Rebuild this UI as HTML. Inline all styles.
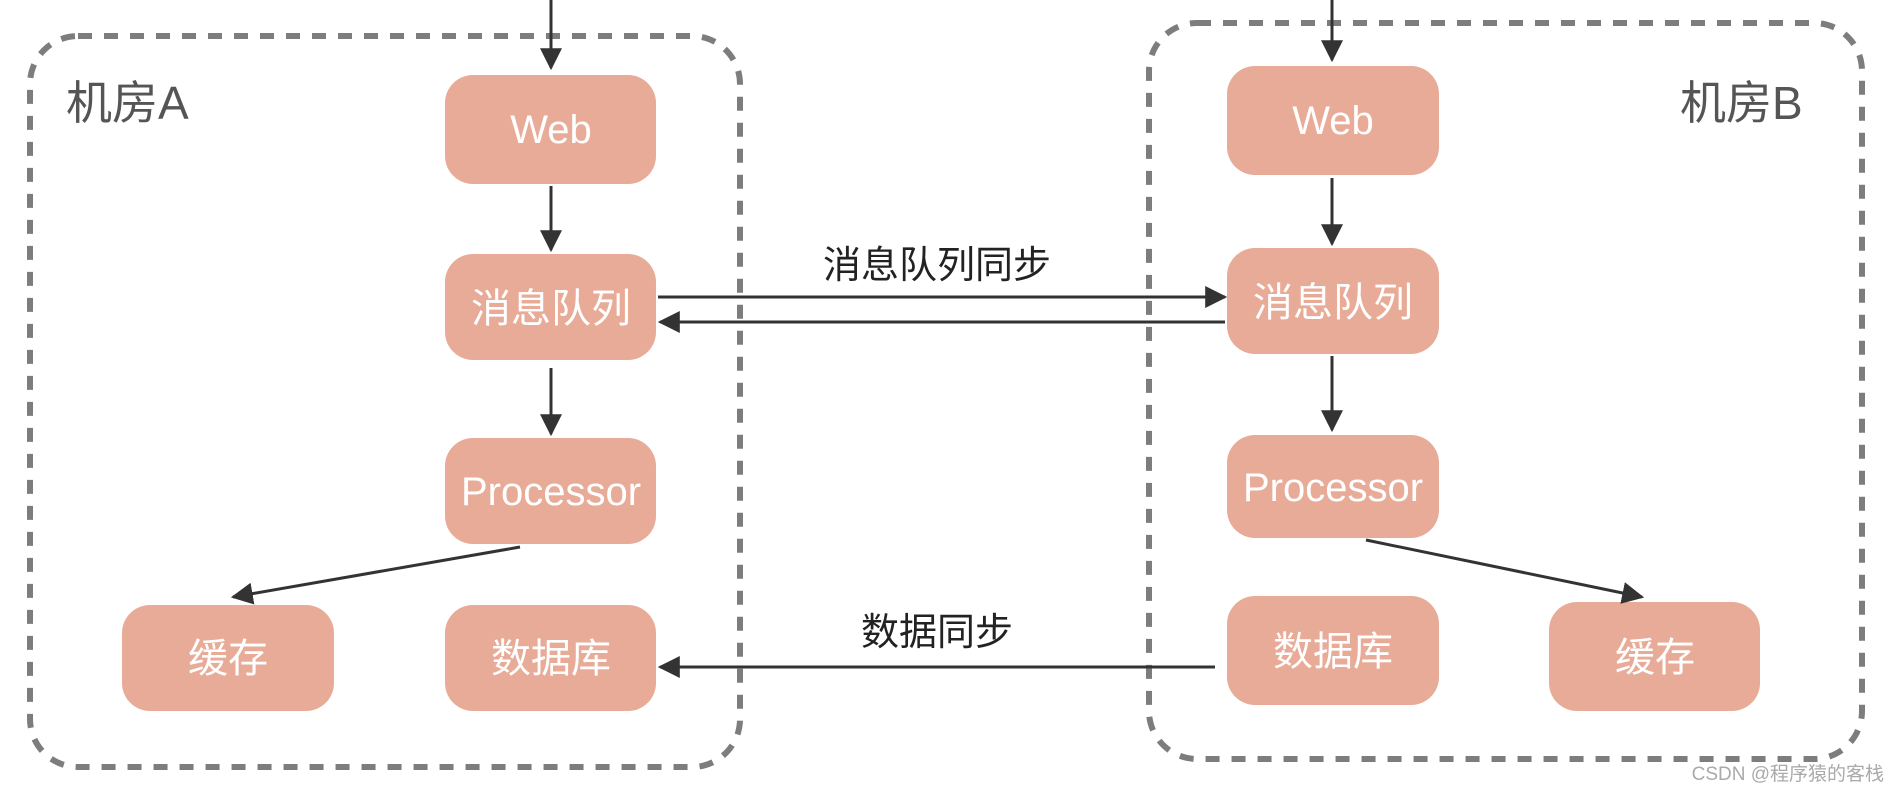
<!DOCTYPE html>
<html><head><meta charset="utf-8"><style>
body{margin:0;background:#fff;}
svg text{font-family:"Liberation Sans","Noto Sans CJK SC",sans-serif;}
</style></head><body>
<svg width="1896" height="790" viewBox="0 0 1896 790" xmlns="http://www.w3.org/2000/svg">
<defs><marker id="ah" markerWidth="10" markerHeight="10" refX="9" refY="5" orient="auto" markerUnits="userSpaceOnUse"><path d="M0,0 L10,5 L0,10 z" fill="#333"/></marker>
<marker id="a" viewBox="0 0 10 10" markerWidth="22" markerHeight="22" refX="9" refY="5" orient="auto" markerUnits="userSpaceOnUse"><path d="M0,0 L10,5 L0,10 z" fill="#333"/></marker></defs>
<g fill="none" stroke="#7d7d7d" stroke-width="6" stroke-dasharray="14 12">
<rect x="30" y="36" width="710" height="731" rx="48"/>
<rect x="1149" y="23" width="713" height="736" rx="48"/>
</g>
<g fill="#e8ab98">
<rect x="445" y="75" width="211" height="109" rx="28"/>
<rect x="445" y="254" width="211" height="106" rx="28"/>
<rect x="445" y="438" width="211" height="106" rx="28"/>
<rect x="122" y="605" width="212" height="106" rx="28"/>
<rect x="445" y="605" width="211" height="106" rx="28"/>
<rect x="1227" y="66" width="212" height="109" rx="28"/>
<rect x="1227" y="248" width="212" height="106" rx="28"/>
<rect x="1227" y="435" width="212" height="103" rx="28"/>
<rect x="1227" y="596" width="212" height="109" rx="28"/>
<rect x="1549" y="602" width="211" height="109" rx="28"/>
</g>
<g stroke="#333" stroke-width="3" fill="none" marker-end="url(#a)">
<line x1="551" y1="0" x2="551" y2="68"/>
<line x1="551" y1="186" x2="551" y2="250"/>
<line x1="551" y1="368" x2="551" y2="434"/>
<line x1="520" y1="547" x2="233" y2="597"/>
<line x1="1332" y1="0" x2="1332" y2="60"/>
<line x1="1332" y1="178" x2="1332" y2="244"/>
<line x1="1332" y1="356" x2="1332" y2="430"/>
<line x1="1366" y1="540" x2="1642" y2="597"/>
<line x1="658" y1="297" x2="1225" y2="297"/>
<line x1="1225" y1="322" x2="660" y2="322"/>
<line x1="1215" y1="667" x2="660" y2="667"/>
</g>
<g fill="#fff" font-size="40" text-anchor="middle">
<text x="551" y="143">Web</text>
<text x="551" y="322">消息队列</text>
<text x="551" y="505">Processor</text>
<text x="228" y="672">缓存</text>
<text x="551" y="672">数据库</text>
<text x="1333" y="134">Web</text>
<text x="1333" y="316">消息队列</text>
<text x="1333" y="501">Processor</text>
<text x="1333" y="665">数据库</text>
<text x="1655" y="671">缓存</text>
</g>
<g fill="#555" font-size="46">
<text x="66" y="119">机房A</text>
<text x="1680" y="119">机房B</text>
</g>
<g fill="#222" font-size="38" text-anchor="middle">
<text x="937" y="278">消息队列同步</text>
<text x="937" y="645">数据同步</text>
</g>
<text x="1884" y="780" font-size="19" fill="#aaa" text-anchor="end">CSDN @程序猿的客栈</text>
</svg>
</body></html>
